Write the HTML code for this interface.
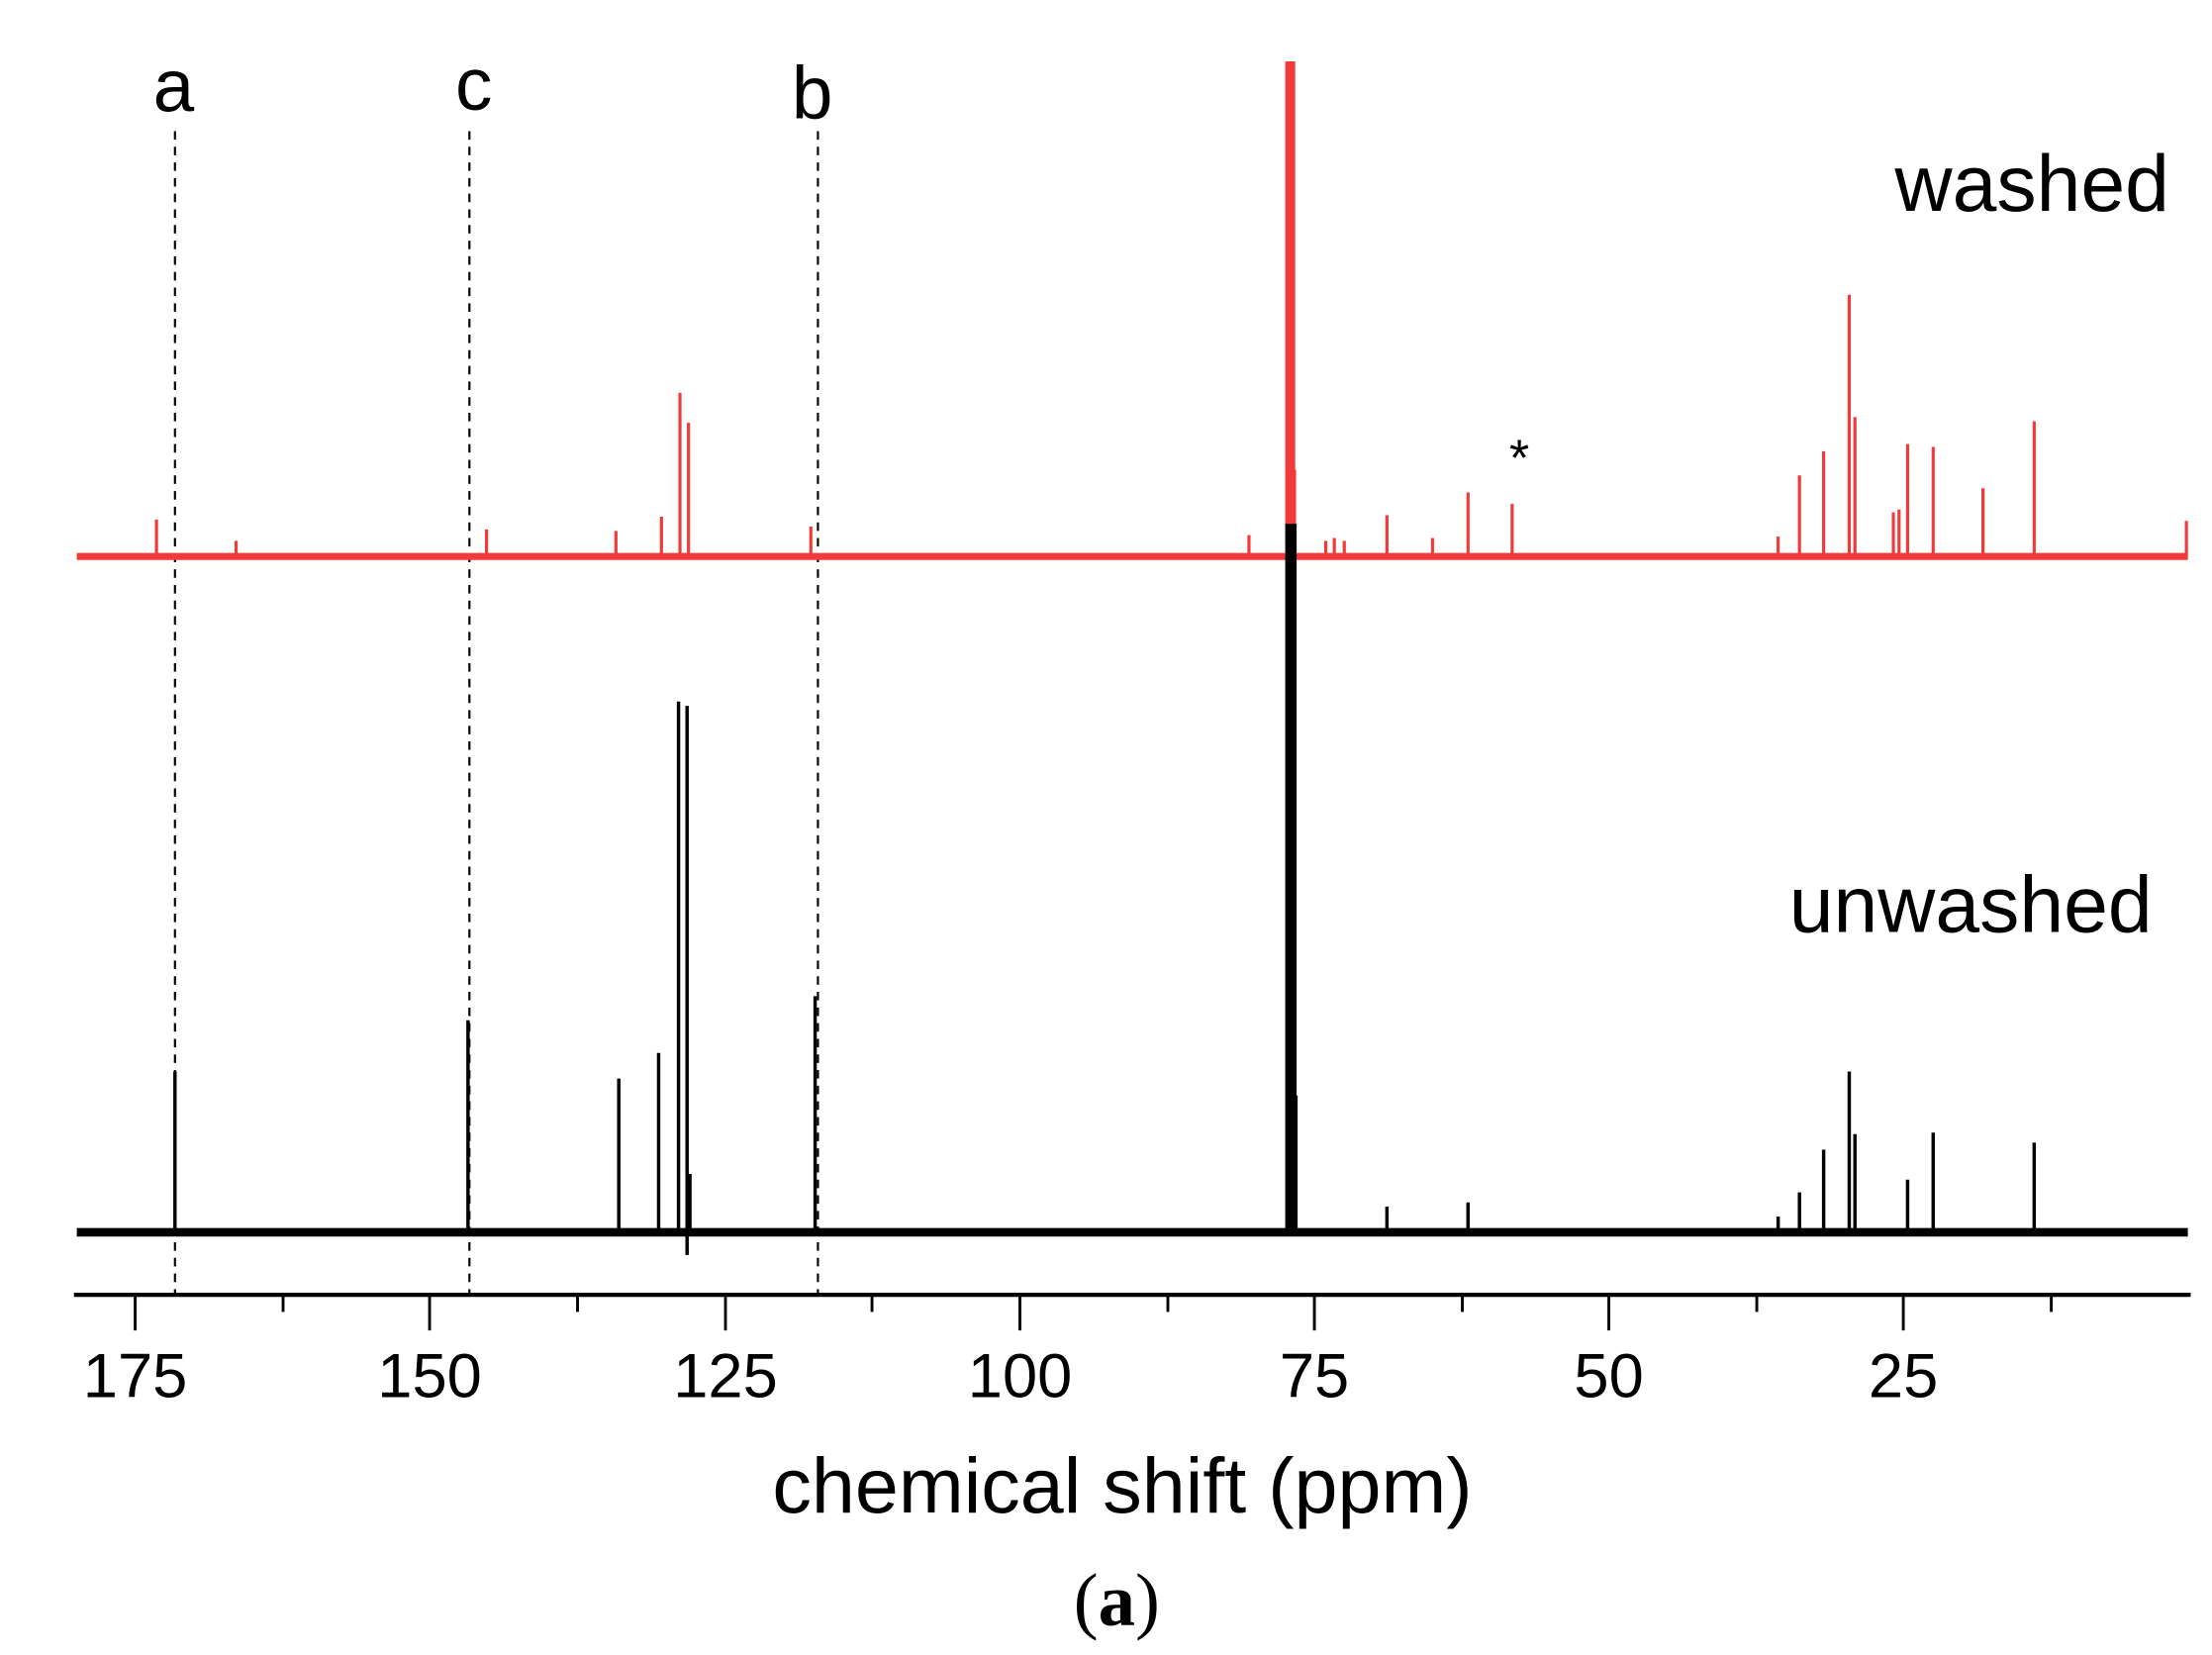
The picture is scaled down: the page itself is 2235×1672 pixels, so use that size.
<!DOCTYPE html>
<html><head><meta charset="utf-8"><style>
html,body{margin:0;padding:0;background:#fff;}
svg{display:block;}
text{font-family:"Liberation Sans",Arial,sans-serif;fill:#000;}
</style></head><body>
<svg width="2235" height="1672" viewBox="0 0 1555 1163" xmlns="http://www.w3.org/2000/svg">
<rect width="1555" height="1163" fill="#fff"/>
<g stroke="#000" stroke-width="1.5" stroke-dasharray="6,5">
<line x1="123" y1="92" x2="123" y2="910"/>
<line x1="330" y1="92" x2="330" y2="910"/>
<line x1="575" y1="92" x2="575" y2="910"/>
</g>
<line x1="54" y1="391" x2="1538" y2="391" stroke="#f23a3a" stroke-width="5"/>
<g stroke="#f23a3a" stroke-width="2.2" fill="none">
<path d="M110 392V365M166 392V380M342 392V372M433 392V373M465 392V363M478 392V276M484 392V297M570 392V370M878 392V376M932 392V380M938 392V378M945 392V380M975 392V362M1007 392V378M1032 392V346M1063 392V354M1250 392V377M1265 392V334M1282 392V317M1300 392V207M1304 392V293M1331 392V360M1335 392V358M1341 392V312M1359 392V314M1394 392V343M1430 392V296M1537 392V366M905 392V298M910 392V330"/>
</g>
<line x1="54" y1="866" x2="1538" y2="866" stroke="#000" stroke-width="6"/>
<g stroke="#000" stroke-width="2.4" fill="none">
<path d="M123 866V753M329 866V717M435 866V758M463 866V740M477 866V493M483 866V496M485 866V825M483 866V882M573 866V700M911 866V770M975 866V848M1032 866V845M1250 866V855M1265 866V838M1282 866V808M1300 866V753M1304 866V797M1341 866V829M1359 866V796M1430 866V803"/>
</g>
<rect x="903.5" y="43" width="7" height="350" fill="#f23a3a"/>
<rect x="903.5" y="368" width="8" height="498" fill="#000"/>
<line x1="52" y1="910" x2="1540" y2="910" stroke="#000" stroke-width="3"/>
<g stroke="#000" stroke-width="2">
<path d="M95 910v25M199 910v12M302 910v25M406 910v12M510 910v25M613 910v12M717 910v25M821 910v12M924 910v25M1028 910v12M1131 910v25M1235 910v12M1338 910v25M1442 910v12"/>
</g>
<g font-size="44" text-anchor="middle">
<text x="95" y="982">175</text><text x="302" y="982">150</text><text x="510" y="982">125</text>
<text x="717" y="982">100</text><text x="924" y="982">75</text><text x="1131" y="982">50</text><text x="1338" y="982">25</text>
</g>
<text x="789" y="1063" font-size="55" text-anchor="middle">chemical shift (ppm)</text>
<text x="785" y="1142" font-size="52" text-anchor="middle" style="font-family:'Liberation Serif',serif;">(<tspan font-weight="bold">a</tspan>)</text>
<g font-size="52" text-anchor="middle">
<text x="122" y="78">a</text><text x="333" y="77">c</text><text x="571" y="83">b</text>
</g>
<text x="1068" y="334" font-size="36" text-anchor="middle">*</text>
<text x="1525" y="148" font-size="56" text-anchor="end">washed</text>
<text x="1513" y="655" font-size="56" text-anchor="end">unwashed</text>
</svg>
</body></html>
